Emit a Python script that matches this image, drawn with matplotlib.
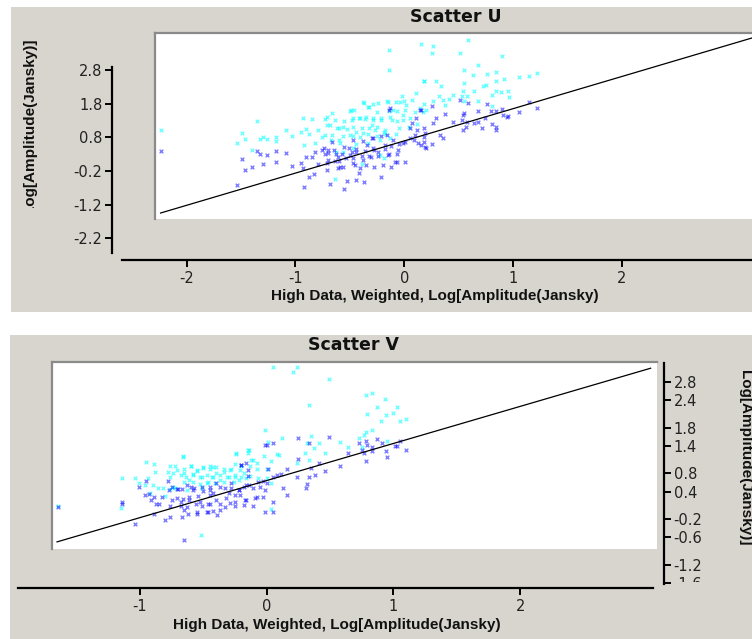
import numpy as np
import matplotlib
matplotlib.use('Agg')
import matplotlib.pyplot as plt
from matplotlib.patches import Rectangle
from matplotlib.transforms import Bbox, TransformedBbox

W, H = 752, 639

# ---- Scatter U : (x, y) in log amplitude ----
u_cyan = np.array([
    (-2.24, 1.02), (-1.35, 1.29), (-1.49, 0.92), (-1.46, 0.76), (-1.54, 0.64), (-1.33, 0.74),
    (-1.30, 0.82), (-1.26, 0.74), (-1.18, 0.80), (-1.18, 0.70), (-1.40, 0.42), (-1.09, 1.02),
    (0.15, 3.58), (-0.14, 3.40), (-0.14, 2.81), (0.18, 2.47), (-0.02, 2.03), (0.07, 1.90),
    (-0.15, 1.85), (-0.37, 1.82), (-0.29, 1.78), (-0.08, 1.85), (0.00, 1.87), (-0.50, 1.59),
    (-0.46, 1.60), (-0.33, 1.70), (-0.25, 1.55), (-0.14, 1.57), (-0.07, 1.57), (0.01, 1.60),
    (0.10, 1.55), (-0.66, 1.53), (-0.93, 1.37), (-0.85, 1.34), (-0.73, 1.35), (-0.64, 1.32),
    (-0.55, 1.29), (-0.48, 1.30), (-0.42, 1.38), (-0.36, 1.35), (-0.29, 1.38), (-0.21, 1.30),
    (-0.11, 1.30), (-0.01, 1.30), (-0.71, 1.16), (-0.60, 1.07), (-0.53, 1.06), (-0.47, 1.11),
    (-0.39, 1.09), (-0.30, 1.16), (-0.27, 1.03), (-0.18, 1.03), (-0.05, 1.09), (0.04, 1.11),
    (0.12, 1.19), (-0.90, 1.05), (-0.95, 0.96), (-0.79, 1.01), (-1.03, 0.83), (-0.88, 0.89),
    (-0.76, 0.81), (-0.66, 0.86), (-0.56, 0.83), (-0.47, 0.85), (-0.41, 0.81), (-0.33, 0.91),
    (-0.25, 0.83), (-0.18, 0.89), (-0.08, 0.91), (-0.44, 0.61), (-0.33, 0.63), (-0.92, 0.56),
    (-0.82, 0.63), (-0.60, 0.71), (-0.22, 0.71), (-0.63, 0.37), (-0.39, 0.02), (-0.19, 0.17),
    (-0.64, -0.43),
    (-0.38, 1.84), (-0.32, 1.71), (-0.24, 1.81), (-0.16, 1.88), (-0.10, 1.61), (-0.04, 1.86),
    (0.02, 1.76), (0.11, 2.11), (-0.49, 1.61), (-0.47, 1.36), (-0.41, 1.36), (-0.35, 1.41),
    (-0.29, 1.32), (-0.21, 1.36), (-0.13, 1.41), (-0.07, 1.27), (-0.01, 1.46), (0.05, 1.36),
    (0.14, 1.66), (-0.71, 1.41), (-0.68, 1.17), (-0.62, 1.07), (-0.56, 1.12), (-0.50, 0.87),
    (-0.44, 0.97), (-0.38, 0.92), (-0.32, 1.07), (-0.25, 1.12), (-0.19, 0.97), (-0.13, 0.77),
    (-0.73, 0.87), (-0.67, 0.72), (-0.59, 0.62), (-0.22, 0.27), (-0.47, 0.47), (-0.56, 0.37),
    (0.59, 3.68), (0.26, 3.50), (0.25, 3.30), (0.51, 3.30), (0.90, 3.21), (0.68, 2.94),
    (0.55, 2.81), (0.63, 2.66), (0.76, 2.69), (0.84, 2.75), (1.22, 2.71), (1.15, 2.62),
    (1.05, 2.58), (0.92, 2.53), (0.84, 2.47), (0.18, 2.46), (0.29, 2.46), (0.34, 2.33),
    (0.55, 2.41), (0.72, 2.31), (0.75, 2.34), (0.54, 2.18), (0.64, 2.18), (0.84, 2.18),
    (0.89, 2.15), (0.95, 2.16), (0.81, 2.06), (0.96, 1.99), (0.45, 2.06), (0.32, 2.03),
    (0.41, 1.93), (0.36, 1.92), (0.26, 1.88), (0.53, 2.03), (0.58, 2.02), (0.55, 1.87),
    (0.68, 1.87), (0.18, 1.78), (0.37, 1.75), (0.20, 1.62), (0.17, 1.56), (0.81, 1.72),
])
u_blue = np.array([
    (-2.24, 0.38), (-1.35, 0.38), (-1.33, 0.30), (-1.26, 0.28), (-1.18, 0.38), (-1.09, 0.33),
    (-1.49, 0.15), (-1.40, -0.07), (-1.46, -0.17), (-1.30, 0.01), (-1.18, 0.07), (-1.54, -0.61),
    (0.15, 1.60), (0.07, 1.23), (0.12, 1.01), (0.18, 0.81), (-0.14, 1.62), (-0.21, 0.83),
    (-0.30, 0.79), (-0.38, 0.69), (-0.47, 0.71), (-0.66, 0.65), (-0.76, 0.43), (-0.70, 0.41),
    (-0.82, 0.37), (-0.90, 0.20), (-0.85, 0.22), (-0.73, 0.29), (-0.63, 0.31), (-0.57, 0.31),
    (-0.51, 0.49), (-0.44, 0.46), (-0.36, 0.39), (-0.28, 0.43), (-0.18, 0.46), (-0.12, 0.53),
    (-0.05, 0.61), (0.01, 0.66), (0.09, 0.71), (-0.95, 0.04), (-0.93, -0.10), (-1.03, -0.06),
    (-0.79, 0.02), (-0.70, 0.12), (-0.60, 0.10), (-0.54, 0.17), (-0.47, 0.17), (-0.39, 0.24),
    (-0.31, 0.22), (-0.24, 0.24), (-0.14, 0.29), (-0.07, 0.31), (-0.83, -0.28), (-0.88, -0.38),
    (-0.71, -0.16), (-0.61, -0.10), (-0.56, -0.08), (-0.45, -0.03), (-0.42, -0.26), (-0.28, -0.08),
    (-0.20, -0.03), (-0.09, 0.07), (0.01, 0.06), (-0.92, -0.67), (-0.68, -0.59), (-0.55, -0.75),
    (-0.53, -0.50), (-0.44, -0.48), (-0.37, -0.53), (-0.21, -0.38), (-0.34, 0.56), (-0.48, 0.37),
    (-0.74, 0.47), (-0.70, 0.32), (-0.65, 0.42), (-0.61, 0.22), (-0.55, 0.52), (-0.50, 0.28),
    (-0.44, 0.37), (-0.38, 0.13), (-0.32, 0.23), (-0.29, 0.47), (-0.24, 0.37), (-0.18, 0.57),
    (-0.15, 0.28), (-0.10, 0.72), (-0.06, 0.42), (-0.01, 0.62), (0.05, 0.77), (0.10, 0.87),
    (0.13, 0.62), (0.18, 0.67), (0.19, 0.52), (-0.07, 0.08), (-0.12, -0.07), (-0.59, -0.07),
    (-0.41, -0.12), (-0.71, 0.03), (-0.64, 0.10), (-0.47, 0.03), (-0.35, -0.02), (-0.29, 0.77),
    (-0.16, 0.87), (-0.13, 1.66), (0.14, 1.61), (0.05, 1.07), (0.11, 1.36),
    (0.51, 1.92), (0.59, 1.82), (0.25, 1.74), (0.37, 1.50), (0.55, 1.52), (0.54, 1.45),
    (0.68, 1.58), (0.76, 1.78), (0.80, 1.58), (0.84, 1.58), (0.90, 1.65), (1.05, 1.56),
    (1.15, 1.85), (1.22, 1.68), (0.91, 1.45), (0.94, 1.40), (0.95, 1.42), (0.29, 1.36),
    (0.26, 1.21), (0.45, 1.26), (0.53, 1.30), (0.58, 1.25), (0.64, 1.21), (0.68, 1.25),
    (0.74, 1.38), (0.81, 1.19), (0.84, 1.11), (0.84, 1.03), (0.71, 1.09), (0.54, 1.03),
    (0.57, 1.11), (0.18, 1.09), (0.19, 0.93), (0.33, 0.87), (0.36, 0.77), (0.25, 0.61),
    (0.20, 0.49), (0.15, 0.57),
])
u_fit_x = [-2.24, 3.30]
u_fit_y = [-1.45, 3.85]
u_xticks = [-2, -1, 0, 1, 2]
u_yticks = [2.8, 1.8, 0.8, -0.2, -1.2, -2.2]

# ---- Scatter V ----
v_cyan = np.array([
    (-1.65, 0.09), (-0.95, 1.05), (-0.89, 1.00), (-0.76, 0.96), (-0.88, 0.84), (-0.78, 0.84),
    (-1.14, 0.70), (-1.04, 0.70), (-0.94, 0.70), (-0.76, 0.73), (-1.01, 0.58), (-0.96, 0.54),
    (-0.90, 0.54), (-0.86, 0.49), (-0.82, 0.49), (-0.74, 0.51), (-0.92, 0.38), (-0.80, 0.30),
    (-1.15, 0.04), (-0.76, 0.46),
    (0.05, 3.12), (0.21, 3.01), (-0.01, 1.74), (0.01, 1.49), (0.12, 1.58), (-0.14, 1.32),
    (-0.24, 1.25), (-0.15, 1.25), (-0.02, 1.19), (0.10, 1.21), (-0.12, 1.09), (0.03, 1.07),
    (-0.66, 1.16), (-0.25, 1.00), (-0.20, 0.95), (-0.08, 0.89), (0.00, 0.89), (-0.72, 0.96),
    (-0.65, 0.89), (-0.60, 0.95), (-0.55, 0.87), (-0.50, 0.93), (-0.45, 0.90), (-0.42, 0.93),
    (-0.40, 0.93), (-0.34, 0.90), (-0.28, 0.90), (-0.74, 0.80), (-0.68, 0.76), (-0.64, 0.73),
    (-0.58, 0.79), (-0.53, 0.71), (-0.47, 0.76), (-0.43, 0.71), (-0.37, 0.76), (-0.31, 0.71),
    (-0.25, 0.73), (-0.20, 0.71), (-0.13, 0.74), (-0.07, 0.69), (-0.65, 0.62), (-0.58, 0.60),
    (-0.53, 0.57), (-0.46, 0.61), (-0.41, 0.58), (-0.34, 0.60), (-0.26, 0.60), (-0.22, 0.65),
    (-0.72, 0.47), (-0.63, 0.43), (-0.51, 0.49), (0.03, 0.03), (-0.52, -0.54),
    (-0.66, 1.18), (-0.60, 0.96), (-0.55, 0.86), (-0.50, 0.91), (-0.45, 0.95), (-0.40, 0.80),
    (-0.34, 0.84), (-0.29, 0.87), (-0.24, 1.22), (-0.15, 1.31), (-0.18, 0.80), (-0.13, 0.95),
    (-0.11, 1.09), (-0.71, 0.87), (-0.65, 0.80), (-0.58, 0.76), (-0.51, 0.73), (-0.42, 0.73),
    (-0.37, 0.65), (-0.30, 0.73), (-0.25, 0.76), (-0.21, 0.87), (-0.16, 0.69), (-0.08, 1.02),
    (0.08, 1.22), (0.00, 0.69), (0.03, 0.58), (-0.47, 0.58), (-0.61, 0.65),
    (0.24, 3.12), (0.49, 2.87), (0.83, 2.55), (0.78, 2.51), (0.93, 2.43), (0.33, 2.30),
    (0.87, 2.25), (1.03, 2.25), (0.79, 2.09), (0.94, 2.07), (1.00, 2.11), (0.90, 1.95),
    (1.05, 1.95), (1.10, 2.00), (0.83, 1.74), (0.78, 1.71), (0.35, 1.62), (0.77, 1.64),
    (0.73, 1.57), (0.58, 1.49), (0.41, 1.47), (0.32, 1.46), (0.95, 1.51), (0.64, 1.37),
    (0.75, 1.37), (0.37, 1.35), (0.30, 1.25), (0.46, 1.25), (0.33, 1.10), (0.24, 1.02),
])
v_blue = np.array([
    (-1.65, 0.06), (-1.14, 0.17), (-1.14, 0.13), (-1.01, 0.51), (-0.95, 0.64), (-0.78, 0.64),
    (-0.96, 0.32), (-0.93, 0.35), (-0.89, 0.29), (-0.91, 0.22), (-0.87, 0.14), (-0.85, 0.12),
    (-0.83, 0.29), (-0.77, 0.44), (-0.75, 0.22), (-0.76, 0.09), (-0.89, -0.08), (-0.80, -0.22),
    (-0.76, -0.15), (-1.04, -0.30),
    (0.05, 1.47), (-0.01, 1.42), (-0.20, 0.98), (-0.15, 0.87), (0.01, 0.90), (0.16, 0.90),
    (0.11, 0.79), (-0.15, 0.74), (0.05, 0.71), (-0.03, 0.64), (-0.07, 0.60), (-0.14, 0.55),
    (-0.18, 0.51), (-0.22, 0.43), (-0.28, 0.47), (-0.37, 0.51), (-0.45, 0.51), (-0.50, 0.42),
    (-0.57, 0.47), (-0.60, 0.51), (-0.71, 0.45), (-0.67, 0.45), (0.13, 0.49), (0.16, 0.33),
    (-0.01, 0.43), (-0.21, 0.32), (-0.08, 0.29), (-0.30, 0.36), (-0.42, 0.38), (-0.45, 0.33),
    (-0.54, 0.30), (-0.61, 0.29), (-0.66, 0.23), (-0.71, 0.25), (-0.25, 0.32), (-0.16, 0.22),
    (-0.29, 0.16), (-0.37, 0.14), (-0.45, 0.13), (-0.51, 0.09), (-0.56, 0.14), (-0.63, 0.07),
    (-0.68, 0.09), (-0.33, 0.07), (-0.25, 0.09), (-0.11, 0.09), (-0.62, -0.08), (-0.55, -0.09),
    (-0.47, -0.04), (-0.42, -0.02), (-0.39, -0.11), (-0.67, -0.15), (-0.01, -0.04), (-0.65, -0.66),
    (-0.75, 0.51), (-0.70, 0.45), (-0.63, 0.54), (-0.58, 0.44), (-0.51, 0.51), (-0.45, 0.44),
    (-0.40, 0.58), (-0.33, 0.47), (-0.28, 0.58), (-0.22, 0.44), (-0.16, 0.54), (-0.11, 0.47),
    (-0.05, 0.51), (0.00, 0.58), (0.08, 0.76), (0.05, 0.18), (-0.03, 0.29), (-0.09, 0.25),
    (-0.17, 0.22), (-0.25, 0.18), (-0.32, 0.25), (-0.40, 0.22), (-0.46, 0.14), (-0.53, 0.18),
    (-0.61, 0.22), (-0.68, 0.18), (-0.65, 0.00), (-0.55, -0.04), (-0.46, -0.04), (-0.37, 0.00),
    (-0.18, 0.11), (-0.16, 1.02), (-0.20, 0.98), (0.00, 1.42), (0.05, -0.04),
    (0.25, 1.58), (0.49, 1.60), (0.33, 1.47), (0.78, 1.51), (0.87, 1.56), (1.05, 1.51),
    (0.73, 1.46), (0.79, 1.41), (0.91, 1.47), (0.83, 1.38), (1.01, 1.40), (1.03, 1.40),
    (1.10, 1.32), (0.64, 1.25), (0.75, 1.31), (0.83, 1.28), (0.94, 1.29), (0.95, 1.16),
    (0.77, 1.24), (0.78, 1.08), (0.25, 1.12), (0.41, 1.03), (0.58, 0.96), (0.35, 0.91),
    (0.46, 0.85), (0.24, 0.73), (0.38, 0.76), (0.33, 0.73), (0.32, 0.57), (0.31, 0.49),
])
v_fit_x = [-1.655, 3.03]
v_fit_y = [-0.70, 3.10]
v_xticks = [-1, 0, 1, 2]
v_yticks = [2.8, 2.4, 1.8, 1.4, 0.8, 0.4, -0.2, -0.6, -1.2, -1.6]

xlabel = 'High Data, Weighted, Log[Amplitude(Jansky)'
ylabel = 'Log[Amplitude(Jansky)]'

BG = '#d8d5ce'
FRAME = '#8a8a8a'
TICKC = '#222222'
LABEL_FONT = ['Liberation Sans', 'DejaVu Sans']

fig = plt.figure(figsize=(W / 100, H / 100), dpi=100)
fig.patch.set_facecolor('white')


def box(x0, y0, x1, y1):
    # pixel box (top-left origin) -> figure fraction rect
    return [x0 / W, 1 - y1 / H, (x1 - x0) / W, (y1 - y0) / H]


def clip(x0, y0, x1, y1):
    return TransformedBbox(Bbox([[x0 / W, 1 - y1 / H], [x1 / W, 1 - y0 / H]]), fig.transFigure)


# layout of each panel, in pixels
U = dict(bg=(11, 7, 752, 312), xs=108.8, x0=404.3, ys=33.66, y0=164.2,
         white=(155, 33, 760, 219), yaxis=(112, 67, 253), side='left',
         xaxis=(260, 122, 752), title=(456, 17), xl=(435, 296), xl_clip=272,
         yl=(30, 126), yl_clip=(0, 40, 60, 208))
V = dict(bg=(10, 335, 752, 639), xs=126.7, x0=266.7, ys=45.7, y0=509.9,
         white=(52, 362, 657, 549), yaxis=(663, 363, 583.5), side='right',
         xaxis=(588, 18, 653), title=(354, 345), xl=(337, 625), xl_clip=168,
         yl=(745, 458), yl_clip=(700, 360, 752, 560))


def draw_panel(p, cyan, blue, fit_x, fit_y, xticks, yticks, title):
    vx = lambda px: (px - p['x0']) / p['xs']
    vy = lambda py: (p['y0'] - py) / p['ys']

    bx0, by0, bx1, by1 = p['bg']
    fig.patches.append(Rectangle((bx0 / W, 1 - by1 / H), (bx1 - bx0) / W, (by1 - by0) / H,
                                 transform=fig.transFigure, facecolor=BG, edgecolor='none', zorder=-5))

    # plot area
    wx0, wy0, wx1, wy1 = p['white']
    ax = fig.add_axes(box(wx0, wy0, wx1, wy1))
    ax.set_xlim(vx(wx0), vx(wx1))
    ax.set_ylim(vy(wy1), vy(wy0))
    ax.set_facecolor('white')
    ax.set_xticks([])
    ax.set_yticks([])
    for s in ['right', 'bottom']:
        ax.spines[s].set_visible(False)
    for s in ['top', 'left']:
        ax.spines[s].set_color(FRAME)
        ax.spines[s].set_linewidth(1.6)
    ax.scatter(cyan[:, 0], cyan[:, 1], marker='x', s=7, c='#00ffff', alpha=0.55, linewidths=1)
    ax.scatter(blue[:, 0], blue[:, 1], marker='x', s=7, c='#0000ff', alpha=0.5, linewidths=1)
    ax.plot(fit_x, fit_y, color='black', lw=0.9)

    # y axis
    yx, yt, yb = p['yaxis']
    ay = fig.add_axes(box(yx, yt, yx + 1, yb))
    ay.set_ylim(vy(yb), vy(yt))
    ay.patch.set_visible(False)
    ay.set_xticks([])
    for s in ay.spines.values():
        s.set_visible(False)
    ay.spines[p['side']].set_visible(True)
    ay.spines[p['side']].set_linewidth(1.6)
    if p['side'] == 'right':
        ay.yaxis.tick_right()
    ay.set_yticks(yticks, [f'{t:g}' for t in yticks])
    ay.tick_params(axis='y', length=5, width=1.4, labelsize=10.5, pad=2, labelcolor=TICKC)
    if p['side'] == 'right':
        for lbl in ay.get_yticklabels():
            lbl.set_clip_on(True)
            lbl.set_clip_box(clip(600, 355, 752, yb - 1.5))

    # x axis
    xy, xl0, xl1 = p['xaxis']
    axx = fig.add_axes(box(xl0, xy - 1, xl1, xy))
    axx.set_xlim(vx(xl0), vx(xl1))
    axx.patch.set_visible(False)
    axx.set_yticks([])
    for s in ['left', 'right', 'top']:
        axx.spines[s].set_visible(False)
    axx.spines['bottom'].set_linewidth(1.6)
    axx.set_xticks(xticks, [str(t) for t in xticks])
    axx.tick_params(axis='x', length=5, width=1.4, labelsize=10.5, pad=3, labelcolor=TICKC)

    fig.text(p['title'][0] / W, 1 - p['title'][1] / H, title, ha='center', va='center',
             fontsize=12.5, fontweight='bold', color='#111111')

    t = fig.text(p['xl'][0] / W, 1 - p['xl'][1] / H, xlabel, ha='center', va='center',
                 fontsize=11, fontweight='bold', family=LABEL_FONT, color='#111111')
    t.set_clip_on(True)
    t.set_clip_box(clip(p['xl_clip'], 0, W, H))

    rot = 90 if p['side'] == 'left' else 270
    t = fig.text(p['yl'][0] / W, 1 - p['yl'][1] / H, ylabel, ha='center', va='center',
                 rotation=rot, fontsize=11, fontweight='bold', family=LABEL_FONT, color='#111111')
    t.set_clip_on(True)
    t.set_clip_box(clip(*p['yl_clip']))


draw_panel(U, u_cyan, u_blue, u_fit_x, u_fit_y, u_xticks, u_yticks, 'Scatter U')
draw_panel(V, v_cyan, v_blue, v_fit_x, v_fit_y, v_xticks, v_yticks, 'Scatter V')

fig.savefig('out.png', dpi=100, facecolor=fig.get_facecolor())
